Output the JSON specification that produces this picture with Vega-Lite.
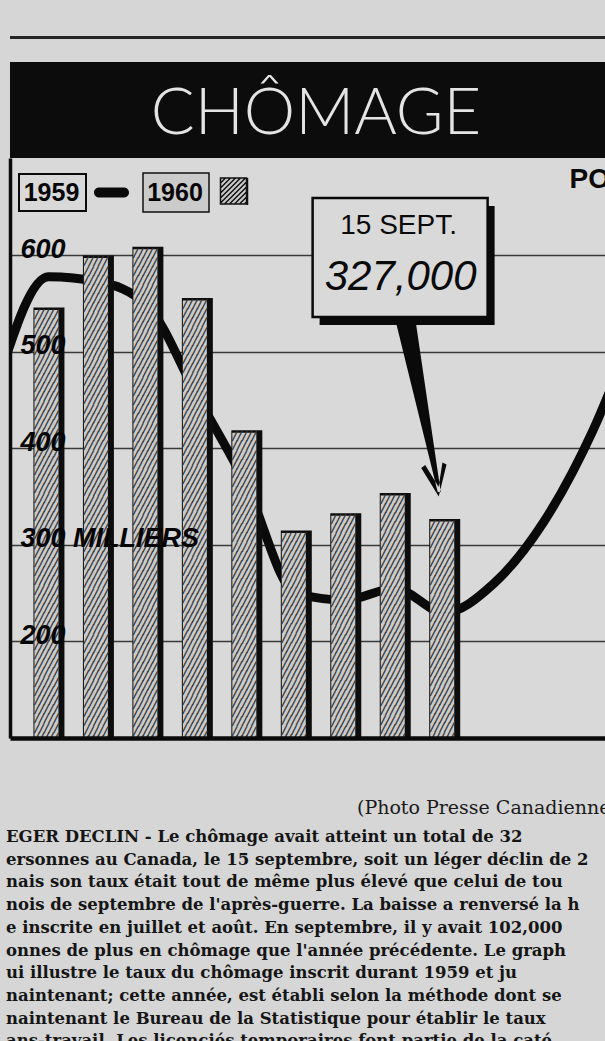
{
  "$schema": "https://vega.github.io/schema/vega-lite/v6.json",
  "background": "#d6d6d6",
  "padding": {"left": 6, "top": 36, "right": 0, "bottom": 0},
  "config": {"view": {"stroke": null}},
  "title": {
    "text": [
      "EGER DECLIN - Le chômage avait atteint un total de 32",
      "ersonnes au Canada, le 15 septembre, soit un léger déclin de 2",
      "nais son taux était tout de même plus élevé que celui de tou",
      "nois de septembre de l'après-guerre. La baisse a renversé la h",
      "e inscrite en juillet et août. En septembre, il y avait 102,000",
      "onnes de plus en chômage que l'année précédente. Le graph",
      "ui illustre le taux du chômage inscrit durant 1959 et ju",
      "naintenant; cette année, est établi selon la méthode dont se",
      "naintenant le Bureau de la Statistique pour établir le taux",
      "ans-travail. Les licenciés temporaires font partie de la caté"
    ],
    "orient": "bottom", "anchor": "start", "frame": "bounds",
    "font": "DejaVu Serif", "fontWeight": "bold", "fontSize": 16.5, "lineHeight": 22.7,
    "color": "#151515", "baseline": "top", "offset": 12, "dx": -4
  },
  "datasets": {
    "chomage": [
      {"serie": "1959", "mois": 0, "milliers": 473},
      {"serie": "1959", "mois": 1, "milliers": 578},
      {"serie": "1959", "mois": 2, "milliers": 573},
      {"serie": "1959", "mois": 3, "milliers": 548},
      {"serie": "1959", "mois": 4, "milliers": 455},
      {"serie": "1959", "mois": 5, "milliers": 362},
      {"serie": "1959", "mois": 6, "milliers": 250},
      {"serie": "1959", "mois": 7, "milliers": 243},
      {"serie": "1959", "mois": 8, "milliers": 255},
      {"serie": "1959", "mois": 9, "milliers": 230},
      {"serie": "1959", "mois": 10, "milliers": 260},
      {"serie": "1959", "mois": 11, "milliers": 323},
      {"serie": "1959", "mois": 12, "milliers": 418},
      {"serie": "1959", "mois": 13, "milliers": 546},
      {"serie": "1960", "mois": 1, "milliers": 546},
      {"serie": "1960", "mois": 2, "milliers": 600},
      {"serie": "1960", "mois": 3, "milliers": 609},
      {"serie": "1960", "mois": 4, "milliers": 556},
      {"serie": "1960", "mois": 5, "milliers": 419},
      {"serie": "1960", "mois": 6, "milliers": 315},
      {"serie": "1960", "mois": 7, "milliers": 333},
      {"serie": "1960", "mois": 8, "milliers": 354},
      {"serie": "1960", "mois": 9, "milliers": 327}
    ]
  },
  "spacing": 23,
  "resolve": {"scale": {"stroke": "independent", "fill": "independent"}, "legend": {"stroke": "independent", "fill": "independent"}},
  "vconcat": [
    {
      "width": 600, "height": 3,
      "view": {"fill": "#262626", "stroke": null},
      "data": {"values": []},
      "mark": {"type": "rule"},
      "encoding": {}
    },
    {
      "spacing": 0,
      "resolve": {"scale": {"stroke": "independent", "fill": "independent"}, "legend": {"stroke": "independent", "fill": "independent"}},
      "vconcat": [
        {
          "width": 600, "height": 96,
          "view": {"fill": "#0c0c0c", "stroke": null},
          "data": {"values": [{}]},
          "mark": {"type": "text", "text": "CHÔMAGE", "font": "Lato", "fontWeight": 300, "fontSize": 65,
                   "color": "#e4e4e4", "baseline": "alphabetic", "align": "center", "dy": 24, "dx": 6}
        },
        {
          "width": 600, "height": 580,
          "view": {"fill": "#d9d9d9", "stroke": null},
          "title": {"text": "PO", "anchor": "end", "orient": "top", "frame": "group", "offset": -36,
                    "baseline": "top", "font": "Liberation Sans", "fontWeight": "bold", "fontSize": 28, "color": "#0a0a0a"},
          "data": {"name": "chomage"},
          "resolve": {"axis": {"y": "independent"}},
          "encoding": {
            "x": {"field": "mois", "type": "quantitative",
                  "scale": {"domain": [0.324, 12.25], "nice": false, "zero": false},
                  "axis": {"labels": false, "ticks": false, "grid": false, "domain": true, "domainWidth": 4.5,
                           "domainColor": "#0a0a0a", "title": "(Photo Presse Canadienne", "titleAnchor": "end",
                           "titleBaseline": "top", "titlePadding": 60, "titleFont": "DejaVu Serif", "titleFontSize": 19,
                           "titleFontWeight": "normal", "titleColor": "#1a1a1a", "zindex": 1}},
            "y": {"field": "milliers", "type": "quantitative",
                  "scale": {"domain": [100, 701], "nice": false, "zero": false}, "axis": null}
          },
          "layer": [
            {
              "transform": [{"filter": "datum.serie == '1959'"}],
              "mark": {"type": "line", "strokeWidth": 9, "interpolate": "monotone", "clip": true, "strokeCap": "butt", "strokeJoin": "round"},
              "encoding": {
                "y": {"field": "milliers", "type": "quantitative",
                      "scale": {"domain": [100, 701], "nice": false, "zero": false},
                      "axis": {"orient": "left", "values": [200, 300, 400, 500, 600], "grid": true, "gridColor": "#3a3a3a", "gridWidth": 1.6,
                               "domain": false, "labels": false, "ticks": false, "title": null, "zindex": 0}},
                "stroke": {"field": "serie", "type": "nominal", "scale": {"range": ["#0a0a0a"]},
                  "legend": {"orient": "none", "legendX": 42.5, "legendY": 22, "title": null, "padding": 0,
                    "symbolType": "M-34.5,-19.5H34.5V19.5H-34.5Z M-32.5,-17.5V17.5H32.5V-17.5Z M46.5,-5H71.5A5,5,0,0,1,71.5,5H46.5A5,5,0,0,1,46.5,-5Z",
                    "symbolSize": 4, "symbolOffset": -12.5, "labelOffset": -13.5, "labelAlign": "center", "labelBaseline": "middle",
                    "labelFont": "Liberation Sans", "labelFontWeight": "bold", "labelFontSize": 25, "labelColor": "#050505", "labelLimit": 0,
                    "encode": {"symbols": {"update": {"fill": {"value": "#0a0a0a"}, "stroke": {"value": "transparent"}, "strokeWidth": {"value": 0}, "opacity": {"value": 1}}}}}}
              }
            },
            {
              "transform": [{"filter": "datum.serie == '1960'"}],
              "mark": {"type": "bar", "width": 31, "xOffset": 0.5, "color": "#0d0d0d", "clip": true}
            },
            {
              "transform": [{"filter": "datum.serie == '1960'"}],
              "mark": {"type": "bar", "width": 24, "xOffset": -2, "yOffset": 2.5, "clip": true},
              "encoding": {
                "y": {"field": "milliers", "type": "quantitative",
                      "scale": {"domain": [100, 701], "nice": false, "zero": false},
                      "axis": {"orient": "left", "values": [200, 300, 400, 500, 600], "grid": false,
                               "domain": true, "domainColor": "#0a0a0a", "domainWidth": 3.5, "ticks": false, "tickSize": 0,
                               "labelAlign": "left", "labelBaseline": "middle", "labelPadding": -10, "labelOffset": -6,
                               "labelFont": "Liberation Sans", "labelFontStyle": "italic", "labelFontWeight": "bold",
                               "labelFontSize": 27, "labelColor": "#050505", "labelOverlap": false, "labelFlush": false,
                               "labelBound": false, "labelLimit": 0,
                               "labelExpr": "datum.value == 300 ? '300  MILLIERS' : datum.label",
                               "title": null, "zindex": 1}},
                "fill": {"field": "serie", "type": "nominal", "scale": {"range": ["#cbcbcb"]},
                  "legend": {"orient": "none", "legendX": 166, "legendY": 22, "title": null, "padding": 0,
                    "symbolType": "M-33,-19.5H33V19.5H-33Z M44.5,-14.5H70.5V11.5H44.5Z M44.5,-9.5L49.5,-14.5 M44.5,-4.5L54.5,-14.5 M44.5,0.5L59.5,-14.5 M44.5,5.5L64.5,-14.5 M44.5,10.5L69.5,-14.5 M48.5,11.5L70.5,-10.5 M53.5,11.5L70.5,-5.5 M58.5,11.5L70.5,-0.5 M63.5,11.5L70.5,4.5 M68.5,11.5L70.5,9.5 M71.5,-14.5V12.5",
                    "symbolSize": 4, "symbolOffset": -12.5, "labelOffset": -13.5, "labelAlign": "center", "labelBaseline": "middle",
                    "labelFont": "Liberation Sans", "labelFontWeight": "bold", "labelFontSize": 25, "labelColor": "#050505", "labelLimit": 0,
                    "encode": {"symbols": {"update": {"fill": {"value": "#cbcbcb"}, "stroke": {"value": "#111111"}, "strokeWidth": {"value": 1.5}, "opacity": {"value": 1}}}}}}
              }
            },
            {
              "transform": [{"filter": "datum.serie == '1960'"}],
              "mark": {"type": "text", "clip": true, "font": "DejaVu Sans Mono", "fontSize": 8, "lineHeight": 9.2,
                       "align": "center", "baseline": "top", "dx": -2, "dy": 3, "color": "#383838", "stroke": "#383838", "strokeWidth": 0.5,
                       "text": ["╱╱╱╱╱","╱╱╱╱╱","╱╱╱╱╱","╱╱╱╱╱","╱╱╱╱╱","╱╱╱╱╱","╱╱╱╱╱","╱╱╱╱╱","╱╱╱╱╱","╱╱╱╱╱",
                                "╱╱╱╱╱","╱╱╱╱╱","╱╱╱╱╱","╱╱╱╱╱","╱╱╱╱╱","╱╱╱╱╱","╱╱╱╱╱","╱╱╱╱╱","╱╱╱╱╱","╱╱╱╱╱",
                                "╱╱╱╱╱","╱╱╱╱╱","╱╱╱╱╱","╱╱╱╱╱","╱╱╱╱╱","╱╱╱╱╱","╱╱╱╱╱","╱╱╱╱╱","╱╱╱╱╱","╱╱╱╱╱",
                                "╱╱╱╱╱","╱╱╱╱╱","╱╱╱╱╱","╱╱╱╱╱","╱╱╱╱╱","╱╱╱╱╱","╱╱╱╱╱","╱╱╱╱╱","╱╱╱╱╱","╱╱╱╱╱",
                                "╱╱╱╱╱","╱╱╱╱╱","╱╱╱╱╱","╱╱╱╱╱","╱╱╱╱╱","╱╱╱╱╱","╱╱╱╱╱","╱╱╱╱╱","╱╱╱╱╱","╱╱╱╱╱",
                                "╱╱╱╱╱","╱╱╱╱╱","╱╱╱╱╱","╱╱╱╱╱","╱╱╱╱╱","╱╱╱╱╱"]}
            },
            {
              "transform": [{"filter": "datum.serie == '1960' && datum.mois == 9"}],
              "mark": {"type": "point", "shape": "M-124.6,-313H50.4V-194H-124.6Z", "size": 4, "filled": true, "color": "#0a0a0a", "opacity": 1, "strokeWidth": 0}
            },
            {
              "transform": [{"filter": "datum.serie == '1960' && datum.mois == 9"}],
              "mark": {"type": "point", "shape": "M-131.6,-321H43.4V-202H-131.6Z", "size": 4, "filled": true, "fill": "#d9d9d9", "stroke": "#0a0a0a", "strokeWidth": 2.5, "opacity": 1}
            },
            {
              "transform": [{"filter": "datum.serie == '1960' && datum.mois == 9"}],
              "mark": {"type": "text", "text": "15 SEPT.", "font": "Liberation Sans", "fontSize": 28, "color": "#0a0a0a",
                       "align": "center", "baseline": "middle", "dx": -45.6, "dy": -293}
            },
            {
              "transform": [{"filter": "datum.serie == '1960' && datum.mois == 9"}],
              "mark": {"type": "text", "text": "327,000", "font": "Liberation Sans", "fontStyle": "italic", "fontSize": 42, "color": "#0a0a0a",
                       "align": "center", "baseline": "middle", "dx": -43.6, "dy": -242}
            },
            {
              "transform": [{"filter": "datum.serie == '1960' && datum.mois == 9"}],
              "mark": {"type": "point", "shape": "M-48.6,-198L-28.6,-198L-3.5,-27L-6.5,-27Z M-23,-51L-5.5,-22.5L2.3,-54.5L-1.8,-56.5L-5.6,-32L-19,-54Z", "size": 4, "filled": true, "color": "#0a0a0a", "opacity": 1, "strokeWidth": 0}
            }
          ]
        }
      ]
    }
  ]
}
